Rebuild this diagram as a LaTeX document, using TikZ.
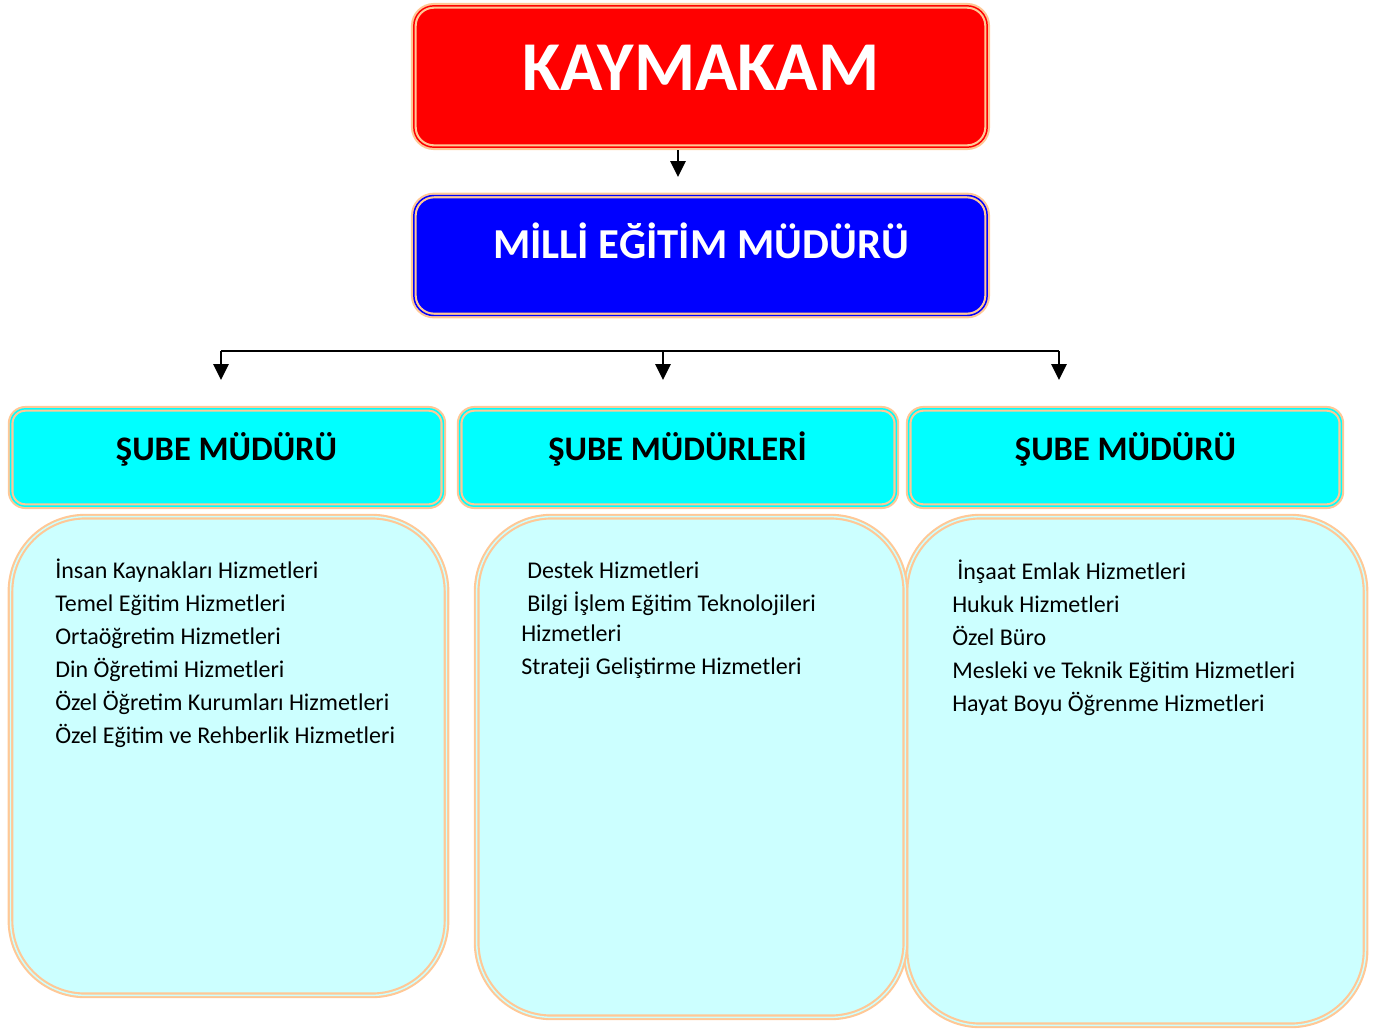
\documentclass[tikz,border=0pt]{standalone}
\usepackage{fontspec}
\setmainfont{Carlito}
\usetikzlibrary{arrows.meta,positioning,calc}
\definecolor{kirmizi}{HTML}{FF0000}
\definecolor{mavi}{HTML}{0000FF}
\definecolor{turkuaz}{HTML}{00FFFF}
\definecolor{acikturkuaz}{HTML}{CCFFFF}
\definecolor{seftali}{HTML}{FFC896}
\tikzstyle{kutu} = [rectangle, draw=seftali, line width=1.6pt, double distance=1.1pt, inner sep=0pt]
\tikzstyle{baslik} = [anchor=base, inner sep=0pt, font=\bfseries\fontsize{25.8}{30}\selectfont]
\tikzstyle{yazi} = [anchor=base west, inner sep=0pt, font=\fontsize{18}{22}\selectfont]
\tikzstyle{ok} = [draw, line width=1.5pt, -{Triangle[length=12pt,width=11.5pt]}]

\begin{document}
\begin{tikzpicture}[x=0.75pt, y=-0.75pt]
    \useasboundingbox (0,0) rectangle (1384,1029);

    % Boxes
    \node [kutu, fill=kirmizi, double=kirmizi, rounded corners=15pt, minimum width=430pt, minimum height=106pt] (kaymakam) at (700.5,76.5) {};
    \node [kutu, fill=mavi, double=mavi, rounded corners=15pt, minimum width=430pt, minimum height=90pt] (mudur) at (700.5,255.5) {};
    \node [kutu, fill=turkuaz, double=turkuaz, rounded corners=11pt, minimum width=324.5pt, minimum height=73pt] (sube1) at (227,457.5) {};
    \node [kutu, fill=turkuaz, double=turkuaz, rounded corners=11pt, minimum width=327.5pt, minimum height=73pt] (sube2) at (678,457.5) {};
    \node [kutu, fill=turkuaz, double=turkuaz, rounded corners=11pt, minimum width=324.5pt, minimum height=73pt] (sube3) at (1125,457.5) {};
    \node [kutu, fill=acikturkuaz, double=acikturkuaz, rounded corners=56pt, minimum width=327pt, minimum height=359pt] (liste1) at (228.5,756) {};
    \node [kutu, fill=acikturkuaz, double=acikturkuaz, rounded corners=56pt, minimum width=345pt, minimum height=381.5pt] (liste3) at (1135.5,771) {};
    \node [kutu, fill=acikturkuaz, double=acikturkuaz, rounded corners=56pt, minimum width=321.5pt, minimum height=375.5pt] (liste2) at (691,767) {};

    % Titles
    \node [anchor=base, inner sep=0pt, text=white, font=\bfseries\fontsize{52.5}{62}\selectfont] (kaymakamyazi) at (701,90) {KAYMAKAM};
    \node [anchor=base, inner sep=0pt, text=white, font=\bfseries\fontsize{32}{38}\selectfont] (muduryazi) at (701,258) {MİLLİ EĞİTİM MÜDÜRÜ};
    \node [baslik] (sube1yazi) at (226.5,460) {ŞUBE MÜDÜRÜ};
    \node [baslik] (sube2yazi) at (677.5,460) {ŞUBE MÜDÜRLERİ};
    \node [baslik] (sube3yazi) at (1125.5,460) {ŞUBE MÜDÜRÜ};

    % Lists
    \node [yazi] (a1) at (55,578) {İnsan Kaynakları Hizmetleri};
    \node [yazi] (a2) at (55,611) {Temel Eğitim Hizmetleri};
    \node [yazi] (a3) at (55,644) {Ortaöğretim Hizmetleri};
    \node [yazi] (a4) at (55,677) {Din Öğretimi Hizmetleri};
    \node [yazi] (a5) at (55,710) {Özel Öğretim Kurumları Hizmetleri};
    \node [yazi] (a6) at (55,743) {Özel Eğitim ve Rehberlik Hizmetleri};

    \node [yazi] (b1) at (527,578) {Destek Hizmetleri};
    \node [yazi] (b2) at (527,611) {Bilgi İşlem Eğitim Teknolojileri};
    \node [yazi] (b3) at (521,641) {Hizmetleri};
    \node [yazi] (b4) at (521,674) {Strateji Geliştirme Hizmetleri};

    \node [yazi] (c1) at (957,579) {İnşaat Emlak Hizmetleri};
    \node [yazi] (c2) at (952,612) {Hukuk Hizmetleri};
    \node [yazi] (c3) at (952,645) {Özel Büro};
    \node [yazi] (c4) at (952,678) {Mesleki ve Teknik Eğitim Hizmetleri};
    \node [yazi] (c5) at (952,711) {Hayat Boyu Öğrenme Hizmetleri};

    % arrows
    \coordinate (k1) at (678,150);
    \coordinate (k2) at (678,177);
    \draw [ok] (k1) -- (k2);
    \coordinate (hatL) at (221,351);
    \coordinate (hatM) at (663,351);
    \coordinate (hatR) at (1059,351);
    \draw [line width=1.5pt] (hatL) -- (hatR);
    \draw [ok] (hatL) -- ($(hatL)+(0,29)$);
    \draw [ok] (hatM) -- ($(hatM)+(0,29)$);
    \draw [ok] (hatR) -- ($(hatR)+(0,29)$);

\end{tikzpicture}
\end{document}
